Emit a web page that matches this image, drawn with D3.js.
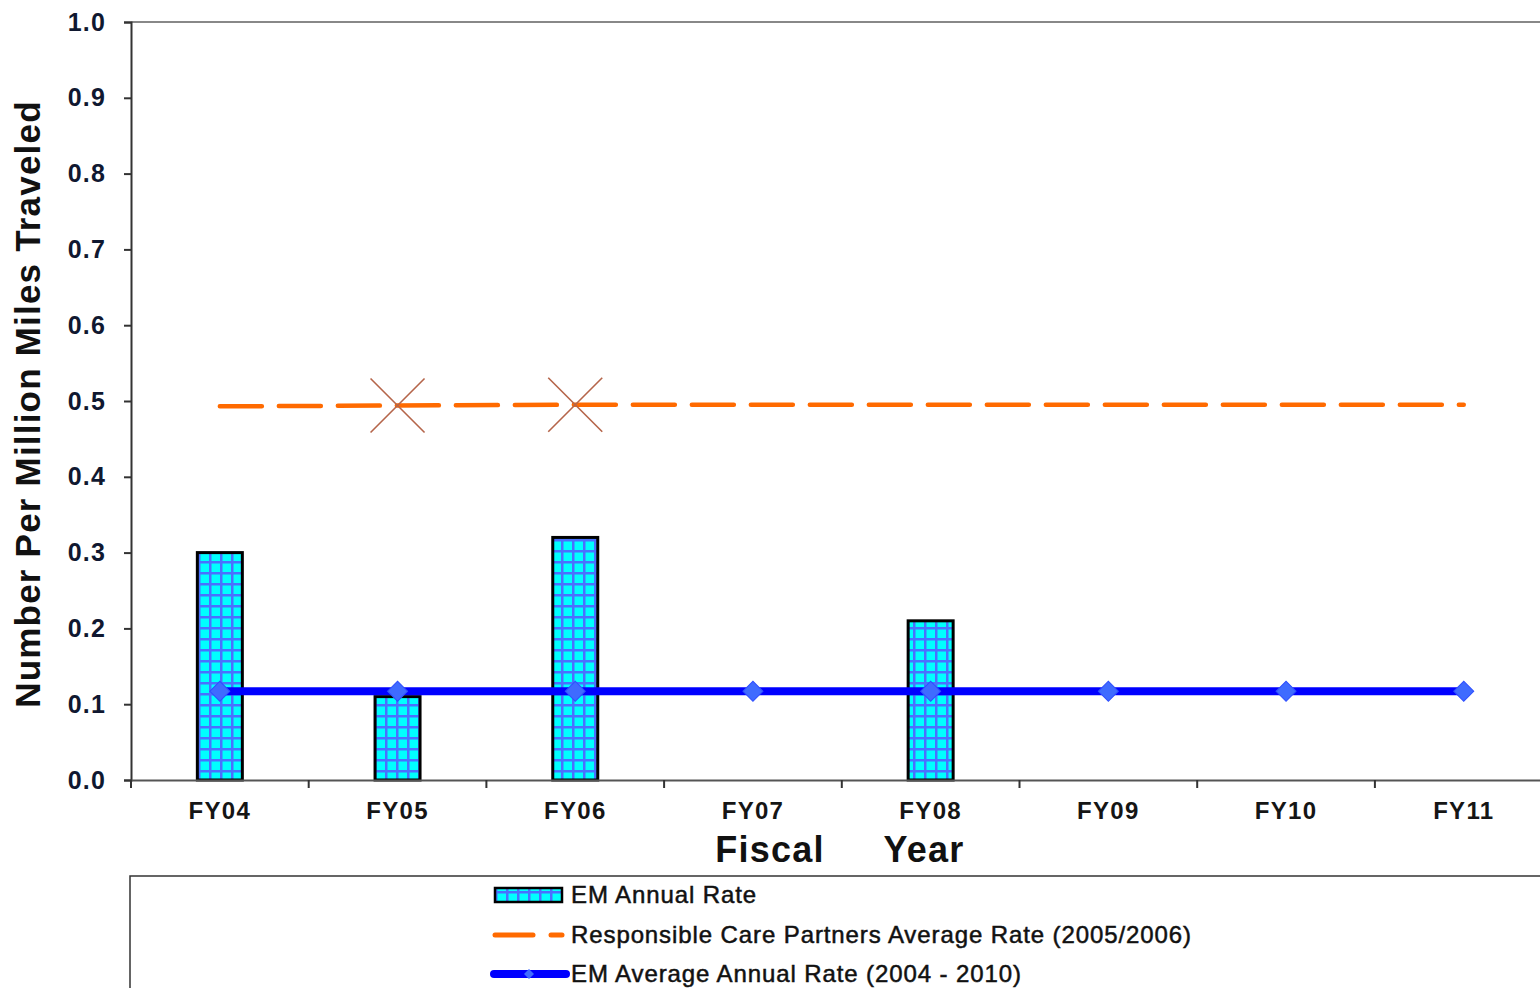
<!DOCTYPE html>
<html>
<head>
<meta charset="utf-8">
<script src="https://cdn.jsdelivr.net/npm/d3@7"></script>
<style>
  body { margin: 0; background: #fff; }
  svg { display: block; font-family: "Liberation Sans", Arial, sans-serif; }
</style>
</head>
<body>
<svg id="Viz"></svg>
<script>
var width = 1540,
    height = 988;

// data
var years = ["FY04", "FY05", "FY06", "FY07", "FY08", "FY09", "FY10", "FY11"];
var emAnnual = [0.30, 0.11, 0.32, 0, 0.21, 0, 0, 0];
var rcPartners = [0.493, 0.494, 0.495, 0.495, 0.495, 0.495, 0.495, 0.495];
var rcMarkers = ["FY05", "FY06"];
var emAverage = [0.117, 0.117, 0.117, 0.117, 0.117, 0.117, 0.117, 0.117];
var yTicks = [0, 0.1, 0.2, 0.3, 0.4, 0.5, 0.6, 0.7, 0.8, 0.9, 1.0];
var legendLabels = ["EM Annual Rate",
  "Responsible Care Partners Average Rate (2005/2006)",
  "EM Average Annual Rate (2004 - 2010)"];

function draw() {
  var svg = d3.select("#Viz").attr("width", width).attr("height", height);

  var defs = svg.append("defs");
  var pat = defs.append("pattern")
      .attr("id", "grid")
      .attr("patternUnits", "userSpaceOnUse")
      .attr("width", 11).attr("height", 11);
  pat.append("rect").attr("width", 11).attr("height", 11).attr("fill", "#00ffff");
  pat.append("path").attr("d", "M0,1H11M1,0V11")
      .attr("stroke", "#4a70ff").attr("stroke-width", 3);

  var x = d3.scaleBand().domain(years).range([131, 131 + 8 * 177.7]).padding(0);
  var y = d3.scaleLinear().domain([0, 1]).range([780, 22]);
  var cx = function(d) { return x(d) + x.bandwidth() / 2; };

  // plot frame top
  svg.append("line").attr("x1", 131).attr("x2", width).attr("y1", 22).attr("y2", 22)
      .attr("stroke", "#888").attr("stroke-width", 2);

  // bars
  svg.append("g").selectAll("rect")
      .data(years.map(function(d, i) { return {k: d, v: emAnnual[i]}; }).filter(function(d) { return d.v > 0; }))
      .enter().append("rect")
        .attr("x", function(d) { return cx(d.k) - 22.5; })
        .attr("y", function(d) { return y(d.v); })
        .attr("width", 45)
        .attr("height", function(d) { return y(0) - y(d.v); })
        .attr("fill", "url(#grid)")
        .attr("stroke", "#000").attr("stroke-width", 3);

  // y axis
  var yAxis = svg.append("g").attr("transform", "translate(131,0)")
      .call(d3.axisLeft(y).tickValues(yTicks).tickFormat(d3.format(".1f")).tickSizeOuter(0).tickSize(7).tickPadding(18));
  yAxis.select(".domain").attr("stroke", "#333").attr("stroke-width", 2);
  yAxis.selectAll(".tick line").attr("stroke", "#333").attr("stroke-width", 2);
  yAxis.selectAll("text").attr("font-size", 25).attr("font-weight", "bold")
      .attr("letter-spacing", 1.2)
      .attr("fill", "#101830").attr("font-family", "Liberation Sans, Arial, sans-serif");

  // x axis
  var xAxis = svg.append("g").attr("transform", "translate(0,780)")
      .call(d3.axisBottom(x).tickSize(0).tickPadding(22));
  xAxis.select(".domain").attr("stroke", "#555").attr("stroke-width", 2);
  xAxis.selectAll("text").attr("font-size", 24).attr("font-weight", "bold")
      .attr("letter-spacing", 1.3)
      .attr("fill", "#151515").attr("font-family", "Liberation Sans, Arial, sans-serif");
  svg.append("g").selectAll("line")
      .data(years.concat(["end"]))
      .enter().append("line")
        .attr("x1", function(d, i) { return x.range()[0] + i * x.bandwidth(); })
        .attr("x2", function(d, i) { return x.range()[0] + i * x.bandwidth(); })
        .attr("y1", 780).attr("y2", 788)
        .attr("stroke", "#333").attr("stroke-width", 2);

  // orange dashed line
  var line = d3.line().x(function(d) { return cx(d.k); }).y(function(d) { return y(d.v); });
  svg.append("path")
      .datum(years.map(function(d, i) { return {k: d, v: rcPartners[i]}; }))
      .attr("d", line)
      .attr("fill", "none").attr("stroke", "#ff6a00").attr("stroke-width", 4.5)
      .attr("stroke-dasharray", "42,17").attr("stroke-linecap", "round");

  svg.append("g").selectAll("path")
      .data(rcMarkers)
      .enter().append("path")
        .attr("d", function(d) {
          var px = cx(d), py = y(rcPartners[years.indexOf(d)]), s = 27;
          return "M" + (px - s) + "," + (py - s) + "L" + (px + s) + "," + (py + s) +
                 "M" + (px - s) + "," + (py + s) + "L" + (px + s) + "," + (py - s);
        })
        .attr("stroke", "#b5654a").attr("stroke-width", 1.6).attr("fill", "none");

  // blue line
  svg.append("path")
      .datum(years.map(function(d, i) { return {k: d, v: emAverage[i]}; }))
      .attr("d", line)
      .attr("fill", "none").attr("stroke", "#0000ff").attr("stroke-width", 8);

  svg.append("g").selectAll("path")
      .data(years)
      .enter().append("path")
        .attr("d", d3.symbol().type(d3.symbolSquare).size(200))
        .attr("transform", function(d, i) { return "translate(" + cx(d) + "," + y(emAverage[i]) + ") rotate(45)"; })
        .attr("fill", "#3f6bff").attr("stroke", "#2f4fff").attr("stroke-width", 1);

  // axis titles
  svg.append("text")
      .attr("transform", "translate(40,404) rotate(-90)")
      .attr("text-anchor", "middle")
      .attr("font-size", 35).attr("font-weight", "bold").attr("fill", "#111")
      .attr("letter-spacing", 1.2)
      .text("Number Per Million Miles Traveled");

  svg.append("text").attr("x", 770).attr("y", 862).attr("text-anchor", "middle")
      .attr("font-size", 36).attr("font-weight", "bold").attr("fill", "#111")
      .attr("letter-spacing", 1.2).text("Fiscal");
  svg.append("text").attr("x", 924).attr("y", 862).attr("text-anchor", "middle")
      .attr("font-size", 36).attr("font-weight", "bold").attr("fill", "#111")
      .attr("letter-spacing", 1.2).text("Year");

  // legend
  var lg = svg.append("g");
  lg.append("rect").attr("x", 130).attr("y", 876).attr("width", 1420).attr("height", 130)
      .attr("fill", "#fff").attr("stroke", "#333").attr("stroke-width", 1.5);

  var rows = [895, 935, 974];
  lg.append("rect").attr("x", 495).attr("y", 888).attr("width", 67).attr("height", 14)
      .attr("fill", "url(#grid)").attr("stroke", "#000").attr("stroke-width", 2.5);
  lg.append("line").attr("x1", 495).attr("x2", 533).attr("y1", rows[1]).attr("y2", rows[1])
      .attr("stroke", "#ff6a00").attr("stroke-width", 5).attr("stroke-linecap", "round");
  lg.append("line").attr("x1", 551).attr("x2", 562).attr("y1", rows[1]).attr("y2", rows[1])
      .attr("stroke", "#ff6a00").attr("stroke-width", 5).attr("stroke-linecap", "round");
  lg.append("line").attr("x1", 494).attr("x2", 566).attr("y1", rows[2]).attr("y2", rows[2])
      .attr("stroke", "#0000ff").attr("stroke-width", 8).attr("stroke-linecap", "round");
  lg.append("path").attr("d", d3.symbol().type(d3.symbolSquare).size(50))
      .attr("transform", "translate(529," + rows[2] + ") rotate(45)")
      .attr("fill", "#3f6bff");

  lg.selectAll("text.lab")
      .data(legendLabels)
      .enter().append("text")
        .attr("class", "lab")
        .attr("x", 571)
        .attr("y", function(d, i) { return rows[i] + 8; })
        .attr("font-size", 24).attr("fill", "#111")
        .attr("letter-spacing", 0.9)
        .attr("font-family", "Liberation Sans, Arial, sans-serif")
        .style("paint-order", "stroke").attr("stroke", "#111").attr("stroke-width", 0.5)
        .text(function(d) { return d; });
}

document.addEventListener('DOMContentLoaded', function() {
  draw();
});
</script>
</body>
</html>
